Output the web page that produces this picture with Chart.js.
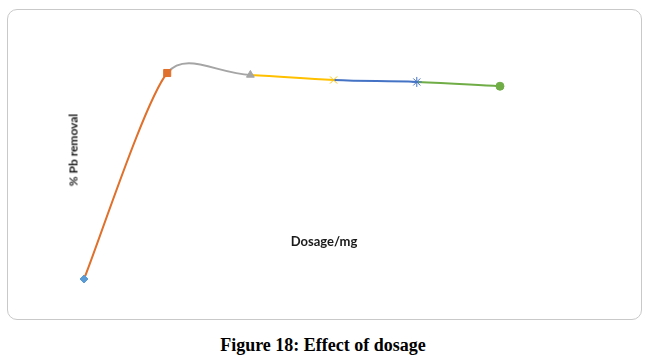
<!DOCTYPE html>
<html>
<head>
<meta charset="utf-8">
<script src="https://cdn.jsdelivr.net/npm/chart.js@4/dist/chart.umd.min.js"></script>
<style>
  html, body { margin: 0; padding: 0; background: #fff; }
  body { width: 646px; height: 361px; position: relative; overflow: hidden; }
  #box {
    position: absolute; left: 7px; top: 9px; width: 633px; height: 309px;
    border: 1px solid #c9c9c9; border-radius: 10px;
  }
  #box canvas { position: absolute; left: 0; top: 0; }
  .ylabel {
    position: absolute; left: 73px; top: 150px;
    transform: translate(-50%, -50%) rotate(-90deg);
    font: bold 12px Lato, sans-serif; color: #1a1a1a; white-space: nowrap;
  }
  .xlabel {
    position: absolute; left: 324px; top: 241px;
    transform: translate(-50%, -50%);
    font: bold 13px Lato, sans-serif; color: #1a1a1a; white-space: nowrap;
  }
  .caption {
    position: absolute; left: 0; width: 646px; top: 335px; text-align: center;
    font: bold 18px "Liberation Serif", "Times New Roman", serif; color: #000;
  }
</style>
</head>
<body>
<div id="box"><canvas id="chart" width="633" height="309"></canvas></div>
<div class="ylabel">% Pb removal</div>
<div class="xlabel">Dosage/mg</div>
<div class="caption">Figure 18: Effect of dosage</div>
<script>
// dosage steps and % Pb removal
const dosage = [1, 2, 3, 4, 5, 6];
const removal = [35, 88, 87.5, 86.2, 85.7, 84.6];

// each point was its own Excel series, so every marker gets its own colour/shape
const pointColors = ["#5B9BD5", "#E0712C", "#A5A5A5", "#FFC000", "#4472C4", "#70AD47"];
const pointShapes = ["rectRot", "rect", "triangle", "crossRot", "star", "circle"];
const pointSizes = [4, 5, 4.5, 5, 5, 4];

const points = dosage.map((d, i) => ({ x: d, y: removal[i] }));
const clear = "rgba(0,0,0,0)";

const ctx = document.getElementById("chart");

new Chart(ctx, {
  type: "line",
  data: {
    datasets: [
      {
        // main curve, first rise drawn separately below (flatter start in Excel)
        data: points,
        borderWidth: 2,
        tension: 0.4,
        segment: {
          borderColor: c => c.p0DataIndex === 0 ? clear : pointColors[c.p1DataIndex]
        },
        pointStyle: pointShapes,
        pointRadius: pointSizes,
        pointBackgroundColor: pointColors,
        pointBorderColor: pointColors,
        pointBorderWidth: 1,
        order: 0
      },
      {
        // the steep first rise, softer smoothing
        data: points.slice(0, 3),
        borderWidth: 2,
        tension: 0.18,
        segment: {
          borderColor: c => c.p0DataIndex === 0 ? pointColors[1] : clear
        },
        pointRadius: 0,
        order: 1
      }
    ]
  },
  options: {
    responsive: false,
    animation: false,
    layout: { padding: 0, autoPadding: false },
    plugins: { legend: { display: false }, tooltip: { enabled: false } },
    scales: {
      x: { type: "linear", display: false, min: 0.0865, max: 7.695 },
      y: { display: false, min: 24.71, max: 104.21 }
    }
  }
});
</script>
</body>
</html>
